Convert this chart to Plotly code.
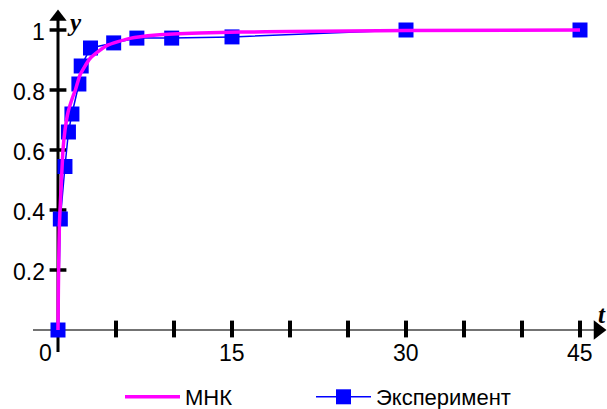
import plotly.graph_objects as go

# Experimental data
t_exp = [0, 0.2, 0.6, 0.9, 1.2, 1.8, 2.0, 2.8, 4.8, 6.8, 9.8, 15, 30, 45]
y_exp = [0, 0.37, 0.545, 0.66, 0.72, 0.82, 0.88, 0.94, 0.957, 0.973, 0.973, 0.977, 1.0, 1.0]

# Least-squares fitted curve
t_fit = [0, 0.03, 0.06, 0.12, 0.2, 0.3, 0.43, 0.6, 0.86, 1.3, 1.5, 1.9, 2.76, 4.2, 6.2, 8.5, 12.2, 15.7, 20, 30, 45]
y_fit = [0, 0.13, 0.22, 0.35, 0.42, 0.5, 0.6, 0.665, 0.725, 0.78, 0.8, 0.85, 0.905, 0.948, 0.972, 0.983, 0.99, 0.993, 0.995, 0.998, 1.0]

x_ticks = [5, 10, 15, 20, 25, 30, 35, 40, 45]
x_label_vals = [15, 30, 45]
x_label_text = ["15", "30", "45"]
y_ticks = [0.2, 0.4, 0.6, 0.8, 1.0]
y_label_text = ["0.2", "0.4", "0.6", "0.8", "1"]

W, H = 607, 409
X0PX, PXU_X = 58, 11.6
Y0PX, PXU_Y = 330, 300.0

def tx(px):
    return (px - X0PX) / PXU_X

def ty(py):
    return (Y0PX - py) / PXU_Y

fig = go.Figure()

# axes lines
fig.add_trace(go.Scatter(x=[tx(33), tx(596)], y=[0, 0], mode="lines",
                         line=dict(color="#444444", width=1.5), showlegend=False, hoverinfo="skip"))
fig.add_trace(go.Scatter(x=[0, 0], y=[ty(352), ty(20)], mode="lines",
                         line=dict(color="black", width=3), showlegend=False, hoverinfo="skip"))
# arrows
fig.add_trace(go.Scatter(x=[tx(598)], y=[0], mode="markers",
                         marker=dict(symbol="triangle-right", size=17, color="black"),
                         showlegend=False, hoverinfo="skip"))
fig.add_trace(go.Scatter(x=[0], y=[ty(17)], mode="markers",
                         marker=dict(symbol="triangle-up", size=15, color="black"),
                         showlegend=False, hoverinfo="skip"))
# ticks
fig.add_trace(go.Scatter(x=x_ticks, y=[ty(329)] * len(x_ticks), mode="markers",
                         marker=dict(symbol="line-ns", size=12, line=dict(color="black", width=4)),
                         showlegend=False, hoverinfo="skip"))
fig.add_trace(go.Scatter(x=[0] * len(y_ticks), y=y_ticks, mode="markers",
                         marker=dict(symbol="line-ew", size=12, line=dict(color="black", width=3.5)),
                         showlegend=False, hoverinfo="skip"))

# data
fig.add_trace(go.Scatter(x=t_exp, y=y_exp, mode="lines+markers", name="Эксперимент",
                         line=dict(color="#0000FF", width=1.5),
                         marker=dict(symbol="square", size=15, color="#0000FF"),
                         legend="legend2", cliponaxis=False))
fig.add_trace(go.Scatter(x=t_fit, y=y_fit, mode="lines", name="МНК",
                         line=dict(color="#FF00FF", width=3.5, shape="spline", smoothing=0.5),
                         legend="legend", cliponaxis=False))

tick_font = dict(family="Liberation Sans, Arial, sans-serif", size=23, color="black")
ann = []
for v, s in zip(x_label_vals, x_label_text):
    ann.append(dict(x=v, y=ty(353), text=s, showarrow=False, xanchor="center", yanchor="middle", font=tick_font))
ann.append(dict(x=tx(45), y=ty(353), text="0", showarrow=False, xanchor="center", yanchor="middle", font=tick_font))
for v, s in zip(y_ticks, y_label_text):
    ann.append(dict(x=tx(47), y=v - 0.008, text=s, showarrow=False, xanchor="right", yanchor="middle", font=tick_font))
label_font = dict(family="Liberation Serif, Times New Roman, serif", size=25, color="black")
ann.append(dict(x=tx(74), y=ty(22), text="<b><i>y</i></b>", showarrow=False, xanchor="center", yanchor="middle", font=label_font))
ann.append(dict(x=tx(602), y=ty(314), text="<b><i>t</i></b>", showarrow=False, xanchor="center", yanchor="middle", font=label_font))

leg_font = dict(family="Liberation Sans, Arial, sans-serif", size=22, color="black")
fig.update_layout(
    width=W, height=H, autosize=False,
    margin=dict(l=0, r=0, t=0, b=0, autoexpand=False),
    paper_bgcolor="white", plot_bgcolor="white",
    xaxis=dict(range=[tx(0), tx(W)], visible=False, fixedrange=True),
    yaxis=dict(range=[ty(H), ty(0)], visible=False, fixedrange=True),
    annotations=ann,
    showlegend=True,
    legend=dict(orientation="h", x=120 / W, y=-0.022,
                xanchor="left", yanchor="bottom", font=leg_font,
                itemwidth=55, bgcolor="rgba(0,0,0,0)"),
    legend2=dict(orientation="h", x=311 / W, y=-0.022,
                 xanchor="left", yanchor="bottom", font=leg_font,
                 itemwidth=55, bgcolor="rgba(0,0,0,0)"),
)

fig.write_html("out.html")
